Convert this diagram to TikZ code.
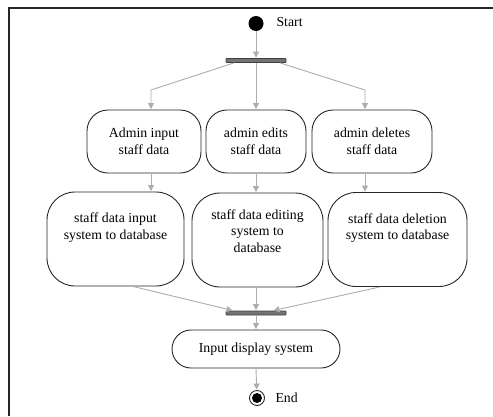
\documentclass[tikz,border=0pt]{standalone}
\usepackage{fontspec}
\setmainfont{Liberation Serif}
\usetikzlibrary{arrows.meta,calc}
\begin{document}
\begin{tikzpicture}[x=1pt,y=-1pt,
  every node/.style={font=\fontsize{13.8}{16.5}\selectfont},
  conn/.style={draw=black!32,line width=0.9pt,-{Triangle[length=6pt,width=6pt]},shorten >=0.5pt},
  actA/.style={draw=black!85,line width=0.9pt,rounded corners=21pt,align=center,inner sep=0pt,minimum height=63pt},
  actB/.style={draw=black!85,line width=0.9pt,rounded corners=28pt,align=center,inner sep=0pt,minimum height=94pt},
  barbox/.style={draw=black!75,fill=black!55,line width=0.8pt,minimum width=60pt,minimum height=4pt,inner sep=0pt,rounded corners=0.8pt},
]
\useasboundingbox (0,0) rectangle (493,416);
\draw[black!85,line width=1.4pt] (9,416) -- (9,8) -- (493,8);

\node[circle,fill=black,minimum size=15pt,inner sep=0pt] (start) at (256,23.5) {};
\node[anchor=west] (startl) at (273,22) {Start};
\node[barbox] (fork) at (256,60.5) {};

\node[actA,minimum width=114pt] (a1) at (144,141.5) {Admin input\\staff data};
\node[actA,minimum width=100pt] (a2) at (256,141.5) {admin edits\\staff data};
\node[actA,minimum width=120pt] (a3) at (372,141.5) {admin deletes\\staff data};

\node[actB,minimum width=137pt] (b1) at (115.5,239) {staff data input\\system to database\\[9pt]};
\node[actB,minimum width=131pt] (b2) at (257.5,240) {staff data editing\\system to\\database\\[2pt]};
\node[actB,minimum width=139pt] (b3) at (397.5,239.5) {staff data deletion\\system to database\\[9pt]};

\node[barbox] (join) at (256,313) {};
\node[draw=black!85,line width=0.9pt,rounded corners=19pt,minimum width=168pt,minimum height=38pt,inner sep=0pt] (disp) at (256,349) {Input display system};

\node[circle,draw=black!85,line width=0.9pt,minimum size=15pt,inner sep=0pt] (end) at (257,398) {};
\node[circle,fill=black,minimum size=10pt,inner sep=0pt] (endin) at (end.center) {};
\node[anchor=west] (endl) at (272,398) {End};

\draw[conn] (start) -- (fork);
\coordinate (k1) at (151,90);
\coordinate (k3) at (365,90);
\draw[conn] ([xshift=-22pt]fork.south) -- (k1) -- (k1 |- a1.north);
\draw[conn] (fork.south) -- (fork.south |- a2.north);
\draw[conn] ([xshift=24pt]fork.south) -- (k3) -- (k3 |- a3.north);

\draw[conn] (k1 |- a1.south) -- (k1 |- b1.north);
\draw[conn] (a2.south -| fork.south) -- (fork.south |- b2.north);
\draw[conn] (k3 |- a3.south) -- (k3 |- b3.north);

\draw[conn] ([xshift=17.5pt]b1.south) -- ([xshift=-23pt]join.north);
\draw[conn] (b2.south -| join.north) -- (join.north);
\draw[conn] ([xshift=-17.5pt]b3.south) -- ([xshift=17pt]join.north);

\draw[conn] (join) -- (disp);
\draw[conn] (disp.south) -- (end);
\end{tikzpicture}
\end{document}
